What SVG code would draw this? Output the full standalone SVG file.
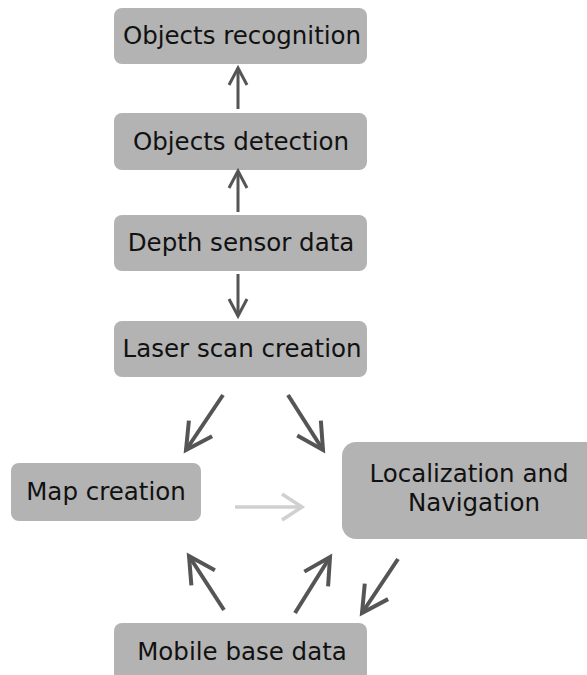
<svg xmlns="http://www.w3.org/2000/svg" width="587" height="675" viewBox="0 0 587 675">
<style>
.box{fill:#b3b3b3}
.lbl{font-family:"DejaVu Sans",sans-serif;font-size:24.5px;fill:#111;text-anchor:middle}
.c{fill:none;stroke:#555;stroke-width:3}
.d{fill:none;stroke:#555;stroke-width:4}
.c2{fill:none;stroke:#d0d0d0;stroke-width:3.5}
</style>
<defs>
<marker id="ah" markerUnits="userSpaceOnUse" markerWidth="30" markerHeight="30" viewBox="-20 -15 30 30" refX="0" refY="0" orient="auto">
<path d="M-17,-9 L0,0 L-17,9" fill="none" stroke="#555" stroke-width="3"/>
</marker>
<marker id="ahd" markerUnits="userSpaceOnUse" markerWidth="40" markerHeight="40" viewBox="-30 -20 40 40" refX="0" refY="0" orient="auto">
<path d="M-26,-14 L0,0 L-26,14" fill="none" stroke="#555" stroke-width="4"/>
</marker>
<marker id="ah2" markerUnits="userSpaceOnUse" markerWidth="40" markerHeight="40" viewBox="-30 -20 40 40" refX="0" refY="0" orient="auto">
<path d="M-20,-13 L0,0 L-20,13" fill="none" stroke="#d0d0d0" stroke-width="3.5"/>
</marker>
</defs>
<rect width="587" height="675" fill="#fff"/>
<g id="n1"><rect class="box" x="114" y="8" width="253" height="56" rx="8"/><text class="lbl" x="242" y="44">Objects recognition</text></g>
<g id="n2"><rect class="box" x="114" y="113" width="253" height="57" rx="8"/><text class="lbl" x="241" y="150">Objects detection</text></g>
<g id="n3"><rect class="box" x="114" y="215" width="253" height="56" rx="8"/><text class="lbl" x="241" y="251">Depth sensor data</text></g>
<g id="n4"><rect class="box" x="114" y="321" width="253" height="56" rx="8"/><text class="lbl" x="242" y="357">Laser scan creation</text></g>
<g id="n5"><rect class="box" x="11" y="463" width="190" height="58" rx="8"/><text class="lbl" x="106" y="500">Map creation</text></g>
<g id="n6"><rect class="box" x="342" y="442" width="260" height="97" rx="14"/><text class="lbl" x="469" y="482">Localization and</text><text class="lbl" x="474" y="511">Navigation</text></g>
<g id="n7"><rect class="box" x="114" y="623" width="253" height="60" rx="8"/><text class="lbl" x="242" y="660">Mobile base data</text></g>
<g id="connectors">
<line class="c" x1="238" y1="109" x2="238" y2="68" marker-end="url(#ah)"/>
<line class="c" x1="238" y1="212" x2="238" y2="171" marker-end="url(#ah)"/>
<line class="c" x1="238" y1="274" x2="238" y2="316" marker-end="url(#ah)"/>
<line class="d" x1="223" y1="395" x2="186" y2="450" marker-end="url(#ahd)"/>
<line class="d" x1="288" y1="395" x2="323" y2="450" marker-end="url(#ahd)"/>
<line class="c2" x1="235" y1="507" x2="302" y2="507" marker-end="url(#ah2)"/>
<line class="d" x1="224" y1="610" x2="189" y2="556" marker-end="url(#ahd)"/>
<line class="d" x1="295" y1="613" x2="330" y2="557" marker-end="url(#ahd)"/>
<line class="d" x1="398" y1="559" x2="362" y2="613" marker-end="url(#ahd)"/>
</g>
</svg>
